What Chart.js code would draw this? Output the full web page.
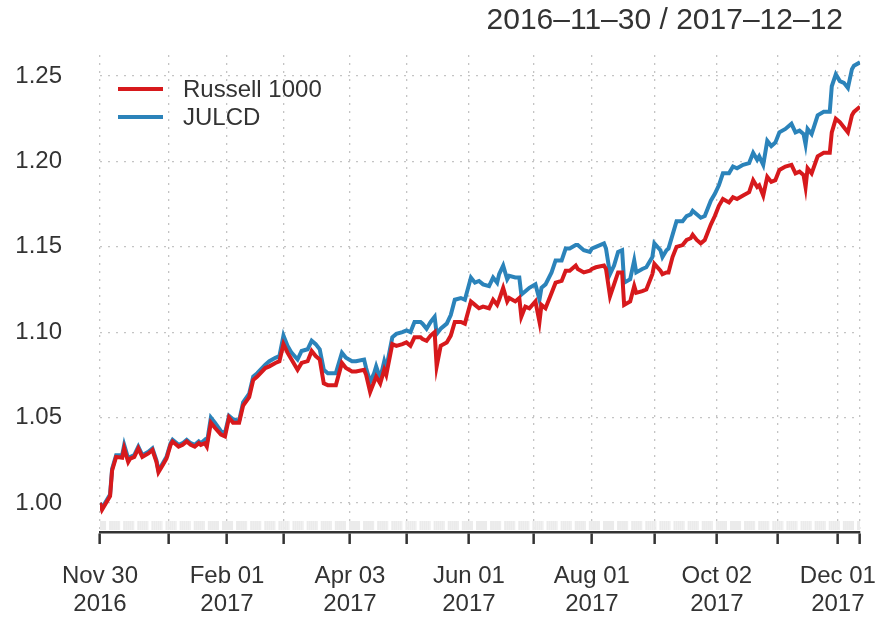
<!DOCTYPE html>
<html>
<head>
<meta charset="utf-8">
<script src="https://cdn.jsdelivr.net/npm/chart.js@4/dist/chart.umd.min.js"></script>
<style>
  html, body { margin: 0; padding: 0; background: #ffffff; }
  canvas { display: block; }
</style>
</head>
<body>
<canvas id="chart-performance" width="879" height="618"></canvas>
<script>
// calendar days since 2016-11-30
const dayOffsets = [
    0, 1, 5, 6, 8, 11, 12, 14, 15, 17, 19, 21, 24, 26, 28, 29, 31, 33, 35, 36,
    39, 41, 43, 45, 47, 49, 50, 52, 53, 55, 57, 60, 62, 64, 66, 69, 71, 74, 76, 78,
    82, 84, 87, 89, 91, 93, 95, 98, 100, 103, 105, 107, 109, 111, 113, 117, 120, 122, 125, 127,
    131, 132, 134, 136, 137, 139, 141, 142, 145, 147, 150, 152, 154, 156, 159, 160, 162, 164, 166, 167,
    169, 172, 174, 176, 179, 181, 184, 186, 188, 190, 193, 195, 197, 198, 200, 202, 203, 206, 208, 209,
    211, 213, 216, 218, 219, 221, 224, 226, 229, 231, 233, 236, 237, 240, 243, 244, 246, 250, 251, 253,
    255, 257, 259, 260, 263, 265, 266, 269, 271, 274, 275, 278, 279, 281, 282, 284, 286, 289, 291, 293,
    294, 296, 298, 300, 303, 305, 307, 309, 312, 314, 316, 319, 322, 324, 326, 327, 329, 331, 333, 335,
    337, 340, 343, 345, 347, 349, 350, 351, 353, 356, 359, 362, 363, 365, 367, 369, 371, 373, 374, 377
];

const russell1000 = [
    1.000, 0.996, 1.004, 1.019, 1.027, 1.0265, 1.032, 1.024, 1.026, 1.027, 1.032, 1.027, 1.029, 1.031, 1.024, 1.018, 1.022, 1.026, 1.034, 1.036,
    1.033, 1.034, 1.036, 1.034, 1.033, 1.035, 1.034, 1.035, 1.033, 1.047, 1.044, 1.040, 1.039, 1.050, 1.047, 1.047, 1.057, 1.062, 1.072, 1.074,
    1.079, 1.080, 1.082, 1.083, 1.093, 1.088, 1.084, 1.078, 1.082, 1.083, 1.089, 1.086, 1.084, 1.070, 1.069, 1.069, 1.082, 1.079, 1.077, 1.077,
    1.078, 1.075, 1.065, 1.071, 1.074, 1.070, 1.078, 1.075, 1.093, 1.092, 1.093, 1.094, 1.092, 1.097, 1.097, 1.096, 1.095, 1.098, 1.100, 1.080,
    1.092, 1.094, 1.098, 1.106, 1.106, 1.105, 1.118, 1.116, 1.114, 1.115, 1.114, 1.119, 1.116, 1.119, 1.126, 1.118, 1.120, 1.118, 1.120, 1.109,
    1.115, 1.114, 1.118, 1.106, 1.116, 1.114, 1.123, 1.129, 1.130, 1.136, 1.136, 1.139, 1.137, 1.135, 1.136, 1.137, 1.138, 1.139, 1.137, 1.121,
    1.128, 1.135, 1.135, 1.116, 1.118, 1.127, 1.123, 1.124, 1.125, 1.134, 1.140, 1.136, 1.134, 1.135, 1.135, 1.144, 1.150, 1.151, 1.154, 1.155,
    1.157, 1.154, 1.152, 1.154, 1.163, 1.168, 1.174, 1.178, 1.176, 1.179, 1.178, 1.180, 1.182, 1.189, 1.185, 1.186, 1.180, 1.191, 1.188, 1.189,
    1.195, 1.197, 1.198, 1.193, 1.194, 1.192, 1.185, 1.196, 1.193, 1.203, 1.205, 1.205, 1.217, 1.225, 1.223, 1.220, 1.217, 1.227, 1.229, 1.232
];

const julcd = [
    1.000, 0.997, 1.005, 1.020, 1.028, 1.028, 1.034, 1.026, 1.027, 1.028, 1.033, 1.028, 1.030, 1.032, 1.025, 1.019, 1.023, 1.027, 1.035, 1.037,
    1.034, 1.035, 1.037, 1.035, 1.034, 1.036, 1.035, 1.037, 1.035, 1.050, 1.047, 1.042, 1.041, 1.051, 1.049, 1.048, 1.059, 1.064, 1.074, 1.076,
    1.081, 1.083, 1.085, 1.086, 1.098, 1.092, 1.088, 1.084, 1.089, 1.090, 1.095, 1.093, 1.090, 1.078, 1.076, 1.076, 1.088, 1.085, 1.083, 1.083,
    1.084, 1.079, 1.071, 1.076, 1.080, 1.073, 1.083, 1.079, 1.097, 1.099, 1.100, 1.101, 1.100, 1.106, 1.106, 1.105, 1.102, 1.106, 1.109, 1.099,
    1.102, 1.105, 1.110, 1.119, 1.120, 1.119, 1.132, 1.129, 1.130, 1.128, 1.127, 1.132, 1.129, 1.134, 1.139, 1.131, 1.133, 1.132, 1.132, 1.122,
    1.124, 1.126, 1.128, 1.119, 1.126, 1.128, 1.135, 1.142, 1.142, 1.149, 1.149, 1.151, 1.151, 1.148, 1.147, 1.149, 1.150, 1.152, 1.149, 1.134,
    1.139, 1.147, 1.148, 1.129, 1.131, 1.142, 1.135, 1.137, 1.138, 1.144, 1.152, 1.148, 1.144, 1.148, 1.149, 1.157, 1.165, 1.165, 1.168, 1.169,
    1.171, 1.169, 1.167, 1.168, 1.177, 1.181, 1.186, 1.193, 1.193, 1.197, 1.196, 1.198, 1.199, 1.205, 1.201, 1.203, 1.198, 1.212, 1.209, 1.211,
    1.217, 1.219, 1.222, 1.217, 1.218, 1.216, 1.210, 1.219, 1.216, 1.227, 1.229, 1.229, 1.244, 1.251, 1.247, 1.246, 1.243, 1.254, 1.256, 1.258
];

const seriesNames = ['Russell 1000', 'JULCD'];
const seriesColors = ['#d7191c', '#2b83ba'];

const tickDays = [0, 34, 63, 91, 124, 152, 183, 215, 244, 275, 306, 336, 366, 377];
const tickLabels = [
    ['Nov 30', '2016'], '', ['Feb 01', '2017'], '', ['Apr 03', '2017'], '',
    ['Jun 01', '2017'], '', ['Aug 01', '2017'], '', ['Oct 02', '2017'], '', ['Dec 01', '2017'], ''
];
const yTicks = [1.00, 1.05, 1.10, 1.15, 1.20, 1.25];
const mainTitle = '2016\u201311\u201330 / 2017\u201312\u201312';

const FONT = "'Liberation Sans', Arial, Helvetica, sans-serif";
const TEXT = '#333333';

// title, legend and the grey observation band along the bottom
const xtsDecor = {
    id: 'xtsDecor',
    beforeDatasetsDraw(chart) {
        const {ctx, chartArea, scales} = chart;
        const x = scales.x;
        ctx.save();
        ctx.fillStyle = '#ebebeb';
        const last = dayOffsets[dayOffsets.length - 1];
        for (let d = 0; d <= last; d++) {
            const wd = (3 + d) % 7; // 2016-11-30 was a Wednesday
            if (wd === 0) continue;
            let a = d - 0.5, b = d + 0.5;
            if (wd === 6) b = d; // keep only a thin weekend gap
            const x0 = x.getPixelForValue(Math.max(a, 0));
            const x1 = x.getPixelForValue(Math.min(b, last));
            ctx.fillRect(x0, chartArea.bottom - 11, x1 - x0, 9);
        }
        ctx.restore();
    },
    afterDraw(chart) {
        const {ctx, chartArea} = chart;
        ctx.save();
        ctx.fillStyle = TEXT;
        ctx.font = '30px ' + FONT;
        ctx.textAlign = 'right';
        ctx.textBaseline = 'middle';
        ctx.fillText(mainTitle, 843, 21);

        ctx.font = '24px ' + FONT;
        ctx.textAlign = 'left';
        chart.data.datasets.forEach((ds, i) => {
            const y = chartArea.top + 34 + i * 28;
            ctx.strokeStyle = ds.borderColor;
            ctx.lineWidth = 4;
            ctx.beginPath();
            ctx.moveTo(chartArea.left + 18, y);
            ctx.lineTo(chartArea.left + 63, y);
            ctx.stroke();
            ctx.fillText(ds.label, chartArea.left + 83, y + 1);
        });
        ctx.restore();
    }
};

const ctp = document.getElementById('chart-performance').getContext('2d');
const chart_performance = new Chart(ctp, {
    type: 'line',
    data: {
        datasets: [
            {
                label: seriesNames[0],
                data: dayOffsets.map((d, i) => ({x: d, y: russell1000[i]})),
                borderColor: seriesColors[0],
                borderWidth: 4,
                pointRadius: 0,
                tension: 0,
                fill: false
            },
            {
                label: seriesNames[1],
                data: dayOffsets.map((d, i) => ({x: d, y: julcd[i]})),
                borderColor: seriesColors[1],
                borderWidth: 4,
                pointRadius: 0,
                tension: 0,
                fill: false
            }
        ]
    },
    options: {
        responsive: false,
        devicePixelRatio: 1,
        animation: false,
        layout: {
            padding: {top: 55, right: 19, left: 0, bottom: 0}
        },
        scales: {
            x: {
                type: 'linear',
                min: 0,
                max: 377,
                afterFit: function (scale) { scale.height = 86; },
                afterBuildTicks: function (scale) {
                    scale.ticks = tickDays.map(v => ({value: v}));
                },
                ticks: {
                    autoSkip: false,
                    maxRotation: 0,
                    padding: 18,
                    color: TEXT,
                    font: {family: FONT, size: 24, lineHeight: 1.17},
                    callback: function (value, index) {
                        return tickLabels[index];
                    }
                },
                grid: {
                    color: '#c4c4c4',
                    lineWidth: 1.3,
                    drawTicks: true,
                    tickLength: 12,
                    tickColor: '#333333',
                    tickWidth: 2.5
                },
                border: {
                    display: true,
                    color: '#333333',
                    width: 2.5,
                    dash: [2, 6]
                }
            },
            y: {
                min: 0.983,
                max: 1.2623,
                afterFit: function (scale) { scale.width = 100; },
                afterBuildTicks: function (scale) {
                    scale.ticks = yTicks.map(v => ({value: v}));
                },
                ticks: {
                    padding: 38,
                    color: TEXT,
                    font: {family: FONT, size: 24},
                    callback: function (value) {
                        return value.toFixed(2);
                    }
                },
                grid: {
                    color: '#c4c4c4',
                    lineWidth: 1.3,
                    drawTicks: false
                },
                border: {
                    display: false,
                    dash: [2, 6]
                }
            }
        },
        plugins: {
            legend: {display: false},
            tooltip: {enabled: false}
        }
    },
    plugins: [xtsDecor]
});
</script>
</body>
</html>
